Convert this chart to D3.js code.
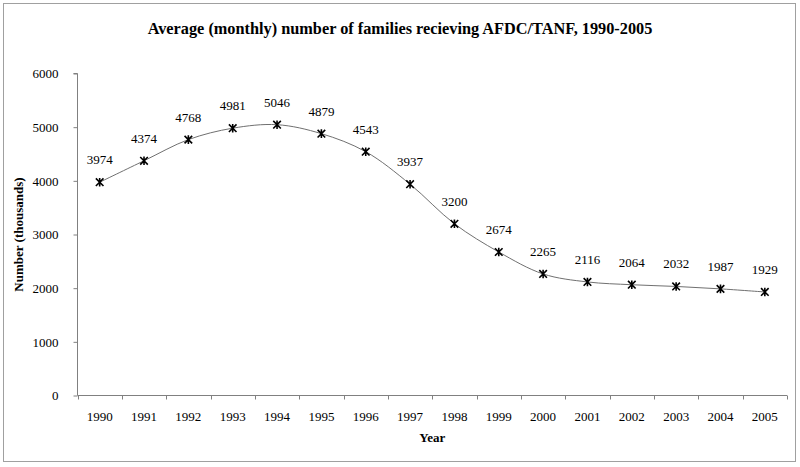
<!DOCTYPE html>
<html><head><meta charset="utf-8">
<script src="https://cdn.jsdelivr.net/npm/d3@7"></script>
<style>body{margin:0;background:#fff}svg{display:block}text{font-family:"Liberation Serif","Times New Roman",serif;fill:#000}</style>
</head><body>
<svg id="c" width="800" height="467"></svg>
<script>
const years = ["1990","1991","1992","1993","1994","1995","1996","1997","1998","1999","2000","2001","2002","2003","2004","2005"];
const families = [3974,4374,4768,4981,5046,4879,4543,3937,3200,2674,2265,2116,2064,2032,1987,1929];
const yTicks = [0,1000,2000,3000,4000,5000,6000];
const title = "Average (monthly) number of families recieving AFDC/TANF, 1990-2005";

const svg = d3.select("#c");
svg.append("rect").attr("x",3.5).attr("y",3.5).attr("width",792).attr("height",458)
  .attr("fill","#fff").attr("stroke","#a0a0a0").attr("stroke-width",1);

const L=77.5, R=787, T=73.5, B=395.5;
const x = d3.scaleBand().domain(years).range([L,R]).padding(0);
const y = d3.scaleLinear().domain([0,6000]).range([B,T]);

svg.append("text").attr("x",400).attr("y",34).attr("text-anchor","middle")
  .attr("font-size",16.3).attr("font-weight","bold").text(title);

// y axis
const ya = svg.append("g").attr("transform",`translate(${L},0)`)
  .call(d3.axisLeft(y).tickValues(yTicks).tickFormat(d3.format("d")).tickSize(4).tickPadding(15));
ya.select(".domain").attr("stroke","#808080").attr("d",`M-4,${T}H0V${B}`);
ya.selectAll(".tick line").attr("stroke","#808080");
ya.selectAll("text").attr("font-size",13).attr("font-family",'"Liberation Serif",serif').attr("fill","#000");

// x axis
const xa = svg.append("g").attr("transform",`translate(0,${B})`)
  .call(d3.axisBottom(x).tickSize(0).tickPadding(16));
xa.select(".domain").attr("stroke","#808080").attr("d",`M${L},0H${R}`);
xa.selectAll("text").attr("font-size",13).attr("font-family",'"Liberation Serif",serif').attr("fill","#000");
const bounds = years.map(d=>x(d)).concat([R]);
xa.selectAll(".sep").data(bounds).join("line").attr("class","sep")
  .attr("x1",d=>Math.round(d)+0.5).attr("x2",d=>Math.round(d)+0.5).attr("y1",0).attr("y2",4).attr("stroke","#808080");

svg.append("text").attr("x",(L+R)/2).attr("y",442).attr("text-anchor","middle")
  .attr("font-size",13).attr("font-weight","bold").text("Year");
svg.append("text").attr("transform",`translate(23,${(T+B)/2}) rotate(-90)`).attr("text-anchor","middle")
  .attr("font-size",13).attr("font-weight","bold").text("Number (thousands)");

const cx = d=>x(d)+x.bandwidth()/2;
const pts = years.map((d,i)=>[cx(d), y(families[i])]);
svg.append("path").attr("d", d3.line().curve(d3.curveCatmullRom.alpha(0.5))(pts))
  .attr("fill","none").attr("stroke","#707070").attr("stroke-width",1);

const m = svg.append("g");
pts.forEach(([px,py])=>{
  const s=3.8;
  m.append("path").attr("d",`M${px-s},${py-s}L${px+s},${py+s}M${px-s},${py+s}L${px+s},${py-s}M${px},${py-s-0.5}L${px},${py+s+0.5}`)
    .attr("stroke","#000").attr("stroke-width",1.6);
});
svg.append("g").selectAll("text").data(years).join("text")
  .attr("x",d=>cx(d)).attr("y",(d,i)=>y(families[i])-18).attr("text-anchor","middle")
  .attr("font-size",13).text((d,i)=>families[i]);
</script>
</body></html>
